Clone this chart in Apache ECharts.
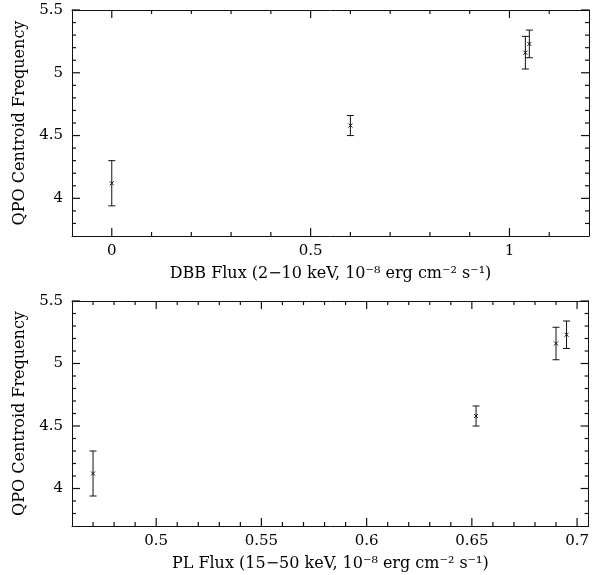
<!DOCTYPE html>
<html>
<head>
<meta charset="utf-8">
<script src="https://cdn.jsdelivr.net/npm/echarts@6/dist/echarts.min.js"></script>
<style>
html,body{margin:0;padding:0;background:#fff;}
#chart{width:592px;height:575px;background:#fff;}
</style>
</head>
<body>
<div id="chart"></div>
<script>
// ---- data ----
const dbbFlux  = [0, 0.6, 1.04, 1.05];
const plFlux   = [0.47, 0.652, 0.69, 0.695];
const qpoFreq  = [4.12, 4.58, 5.16, 5.23];
const freqLow  = [3.94, 4.50, 5.03, 5.12];
const freqHigh = [4.30, 4.66, 5.29, 5.34];

// ---- tick values ----
const yMajor = [4, 4.5, 5, 5.5];
const yMinor = [3.8, 3.9, 4.1, 4.2, 4.3, 4.4, 4.6, 4.7, 4.8, 4.9, 5.1, 5.2, 5.3, 5.4];
const dbbMajor = [0, 0.5, 1];
const dbbMinor = [0.1, 0.2, 0.3, 0.4, 0.6, 0.7, 0.8, 0.9, 1.1];
const plMajor = [0.5, 0.55, 0.6, 0.65, 0.7];
const plMinor = [0.47, 0.48, 0.49, 0.51, 0.52, 0.53, 0.54, 0.56, 0.57, 0.58, 0.59, 0.61, 0.62, 0.63, 0.64, 0.66, 0.67, 0.68, 0.69];

const yName = 'QPO Centroid Frequency';
const dbbName = 'DBB Flux (2\u221210 keV, 10\u207B\u2078 erg cm\u207B\u00B2 s\u207B\u00B9)';
const plName = 'PL Flux (15\u221250 keV, 10\u207B\u2078 erg cm\u207B\u00B2 s\u207B\u00B9)';

const FONT = 'DejaVu Serif';
const Y_MIN = 3.7, Y_MAX = 5.5;
const DBB_MIN = -0.1, DBB_MAX = 1.2;
const PL_MIN = 0.46, PL_MAX = 0.7055;

function axis(kind, grid, pos, min, max, ticks, labels, name) {
  const a = {
    type: 'value', gridIndex: grid, position: pos, min: min, max: max,
    axisLine: {show: true, onZero: false, lineStyle: {color: '#111', width: 1}},
    axisTick: {show: false},
    axisLabel: labels ? {show: true, customValues: ticks, color: '#000', fontFamily: FONT, fontSize: 15,
                         margin: kind === 'x' ? 8 : 9} : {show: false},
    splitLine: {show: false}
  };
  if (name) {
    a.name = name;
    a.nameLocation = 'middle';
    a.nameTextStyle = {color: '#000', fontFamily: FONT, fontSize: 16};
    a.nameGap = kind === 'x' ? 30 : 44;
  }
  return a;
}

const xAxes = [
  axis('x', 0, 'bottom', DBB_MIN, DBB_MAX, dbbMajor, true, dbbName),
  axis('x', 0, 'top', DBB_MIN, DBB_MAX, dbbMajor, false),
  axis('x', 1, 'bottom', PL_MIN, PL_MAX, plMajor, true, plName),
  axis('x', 1, 'top', PL_MIN, PL_MAX, plMajor, false)
];
const yAxes = [
  axis('y', 0, 'left', Y_MIN, Y_MAX, yMajor, true, yName),
  axis('y', 0, 'right', Y_MIN, Y_MAX, yMajor, false),
  axis('y', 1, 'left', Y_MIN, Y_MAX, yMajor, true, yName),
  axis('y', 1, 'right', Y_MIN, Y_MAX, yMajor, false)
];

function ln(x1, y1, x2, y2, w) {
  return {type: 'line', shape: {x1: x1, y1: y1, x2: x2, y2: y2},
          style: {stroke: '#111', lineWidth: w || 1}};
}

function errRender(params, api) {
  const x = api.value(0), y = api.value(1), lo = api.value(2), hi = api.value(3);
  const pl = api.coord([x, lo]), ph = api.coord([x, hi]), pc = api.coord([x, y]);
  const cap = 3.5, m = 2;
  return {type: 'group', children: [
    ln(pl[0], pl[1], ph[0], ph[1]),
    ln(pl[0] - cap, pl[1], pl[0] + cap, pl[1]),
    ln(ph[0] - cap, ph[1], ph[0] + cap, ph[1]),
    ln(pc[0] - m, pc[1] - m, pc[0] + m, pc[1] + m),
    ln(pc[0] - m, pc[1] + m, pc[0] + m, pc[1] - m)
  ]};
}

// inward ticks on all four sides; data item = [tick value, tick length]
function xTickRender(yRef) {
  return function (params, api) {
    const cs = params.coordSys;
    const px = api.coord([api.value(0), yRef])[0];
    const len = api.value(1);
    const b = cs.y + cs.height, t = cs.y;
    return {type: 'group', children: [ln(px, b, px, b - len, 1.2), ln(px, t, px, t + len, 1.2)]};
  };
}
function yTickRender(xRef) {
  return function (params, api) {
    const cs = params.coordSys;
    const py = api.coord([xRef, api.value(0)])[1];
    const len = api.value(1);
    const l = cs.x, r = cs.x + cs.width;
    return {type: 'group', children: [ln(l, py, l + len, py, 1.2), ln(r, py, r - len, py, 1.2)]};
  };
}
function tickData(major, minor) {
  return major.map(v => [v, 8]).concat(minor.map(v => [v, 4]));
}

const dbbData = dbbFlux.map((x, i) => [x, qpoFreq[i], freqLow[i], freqHigh[i]]);
const plData = plFlux.map((x, i) => [x, qpoFreq[i], freqLow[i], freqHigh[i]]);

const chart = echarts.init(document.getElementById('chart'));
chart.setOption({
  animation: false,
  grid: [
    {left: 72, right: 3, top: 10, height: 226},
    {left: 72, right: 3, top: 301, height: 225}
  ],
  xAxis: xAxes,
  yAxis: yAxes,
  series: [
    {type: 'custom', xAxisIndex: 0, yAxisIndex: 0, renderItem: xTickRender(Y_MIN), z: 5,
     encode: {x: 0}, data: tickData(dbbMajor, dbbMinor), clip: false},
    {type: 'custom', xAxisIndex: 0, yAxisIndex: 0, renderItem: yTickRender(DBB_MIN), z: 5,
     encode: {y: 0}, data: tickData(yMajor, yMinor), clip: false},
    {type: 'custom', xAxisIndex: 2, yAxisIndex: 2, renderItem: xTickRender(Y_MIN), z: 5,
     encode: {x: 0}, data: tickData(plMajor, plMinor), clip: false},
    {type: 'custom', xAxisIndex: 2, yAxisIndex: 2, renderItem: yTickRender(PL_MIN), z: 5,
     encode: {y: 0}, data: tickData(yMajor, yMinor), clip: false},
    {type: 'custom', xAxisIndex: 0, yAxisIndex: 0, renderItem: errRender,
     encode: {x: 0, y: [1, 2, 3]}, data: dbbData, clip: false},
    {type: 'custom', xAxisIndex: 2, yAxisIndex: 2, renderItem: errRender,
     encode: {x: 0, y: [1, 2, 3]}, data: plData, clip: false}
  ]
});
</script>
</body>
</html>
